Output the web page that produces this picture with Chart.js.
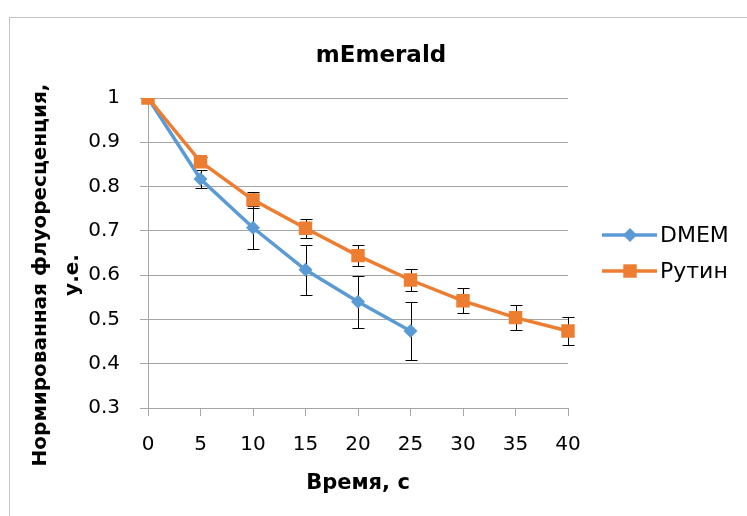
<!DOCTYPE html>
<html>
<head>
<meta charset="utf-8">
<script src="https://cdn.jsdelivr.net/npm/chart.js@4.4.1/dist/chart.umd.min.js"></script>
<style>
  html, body { margin: 0; padding: 0; background: #fff; }
</style>
</head>
<body>
<canvas id="fluoChart" width="747" height="516"></canvas>
<script>
// time points, s
const times = [0, 5, 10, 15, 20, 25, 30, 35, 40];
// normalised fluorescence and error bars
const dmem = [1.0, 0.817, 0.707, 0.612, 0.540, 0.474];
const dmemErr = [0, 0.020, 0.049, 0.056, 0.059, 0.065];
const rutin = [1.0, 0.856, 0.770, 0.706, 0.644, 0.589, 0.542, 0.504, 0.474];
const rutinErr = [0, 0.010, 0.018, 0.021, 0.023, 0.025, 0.028, 0.028, 0.031];
const seriesNames = ['DMEM', 'Рутин'];
const yTicks = [0.3, 0.4, 0.5, 0.6, 0.7, 0.8, 0.9, 1];

const chartTitle = 'mEmerald';
const yTitle = ['Нормированная флуоресценция,', 'у.е.'];
const xTitle = 'Время, с';

const gridColor = '#a6a6a6';
const textColor = '#000';

Chart.defaults.font.family = '"DejaVu Sans", sans-serif';
Chart.defaults.color = textColor;

function marker(ctx, style, r, x, y) {
    ctx.beginPath();
    if (style === 'rectRot') {
        ctx.moveTo(x - r, y);
        ctx.lineTo(x, y - r);
        ctx.lineTo(x + r, y);
        ctx.lineTo(x, y + r);
    } else {
        const s = r * Math.SQRT1_2;
        ctx.rect(x - s, y - s, 2 * s, 2 * s);
    }
    ctx.closePath();
    ctx.fill();
}

// frame, error bars, titles and legend
const extras = {
    id: 'extras',
    beforeDraw(chart) {
        const ctx = chart.ctx;
        ctx.save();
        ctx.strokeStyle = '#c4c4c4';
        ctx.lineWidth = 1;
        ctx.strokeRect(9.5, 17.5, chart.width + 20, chart.height + 20);
        ctx.restore();
    },
    beforeDatasetsDraw(chart) {
        const ctx = chart.ctx;
        const yScale = chart.scales.y;
        ctx.save();
        ctx.strokeStyle = '#000';
        ctx.lineWidth = 1;
        chart.data.datasets.forEach((ds, i) => {
            const meta = chart.getDatasetMeta(i);
            ds.data.forEach((v, j) => {
                const e = ds.errors[j];
                if (v == null || !e) return;
                const x = Math.round(meta.data[j].x) + 0.5;
                const top = Math.round(yScale.getPixelForValue(v + e)) + 0.5;
                const bot = Math.round(yScale.getPixelForValue(v - e)) + 0.5;
                ctx.beginPath();
                ctx.moveTo(x, top); ctx.lineTo(x, bot);
                ctx.moveTo(x - 6, top); ctx.lineTo(x + 6, top);
                ctx.moveTo(x - 6, bot); ctx.lineTo(x + 6, bot);
                ctx.stroke();
            });
        });
        ctx.restore();
    },
    afterDraw(chart) {
        const ctx = chart.ctx;
        ctx.save();
        ctx.fillStyle = textColor;

        ctx.font = 'bold 23px "DejaVu Sans"';
        ctx.textAlign = 'center';
        ctx.textBaseline = 'middle';
        ctx.fillText(chartTitle, 381, 56);

        ctx.font = 'bold 20px "DejaVu Sans"';
        ctx.textBaseline = 'alphabetic';
        [46, 78].forEach((x, k) => {
            ctx.save();
            ctx.translate(x, 275);
            ctx.rotate(-Math.PI / 2);
            ctx.fillText(yTitle[k], 0, 0);
            ctx.restore();
        });

        const rows = [235, 271];
        ctx.font = '22px "DejaVu Sans"';
        ctx.textAlign = 'left';
        ctx.textBaseline = 'middle';
        chart.data.datasets.forEach((ds, i) => {
            const y = rows[i];
            ctx.strokeStyle = ds.borderColor;
            ctx.lineWidth = ds.borderWidth;
            ctx.beginPath();
            ctx.moveTo(602, y);
            ctx.lineTo(657, y);
            ctx.stroke();
            ctx.fillStyle = ds.backgroundColor;
            marker(ctx, ds.pointStyle, ds.pointRadius, 630, y);
            ctx.fillStyle = textColor;
            ctx.fillText(ds.label, 660, y + 1);
        });
        ctx.restore();
    }
};

new Chart(document.getElementById('fluoChart'), {
    type: 'line',
    data: {
        labels: times,
        datasets: [{
            label: seriesNames[0],
            data: dmem,
            errors: dmemErr,
            borderColor: '#5B9BD5',
            backgroundColor: '#5B9BD5',
            borderWidth: 3.5,
            pointStyle: 'rectRot',
            pointRadius: 7,
            pointBorderWidth: 0,
            tension: 0,
            order: 1
        }, {
            label: seriesNames[1],
            data: rutin,
            errors: rutinErr,
            borderColor: '#ED7D31',
            backgroundColor: '#ED7D31',
            borderWidth: 3.5,
            pointStyle: 'rect',
            pointRadius: 9.5,
            pointBorderWidth: 0,
            tension: 0,
            order: 0
        }]
    },
    options: {
        responsive: false,
        animation: false,
        layout: { padding: { top: 98, right: 179, bottom: 0, left: 0 } },
        scales: {
            x: {
                type: 'category',
                offset: false,
                grid: { drawOnChartArea: false, tickLength: 8, color: gridColor },
                border: { color: gridColor },
                ticks: { font: { size: 20 }, padding: 17, maxRotation: 0, autoSkip: false },
                title: {
                    display: true,
                    text: xTitle,
                    font: { size: 21, weight: 'bold' },
                    padding: { top: 4, bottom: 20 }
                },
                afterFit(scale) { scale.height = 108; }
            },
            y: {
                min: 0.3,
                max: 1,
                afterBuildTicks(scale) { scale.ticks = yTicks.map(v => ({ value: v })); },
                grid: { tickLength: 8, color: gridColor },
                border: { color: gridColor },
                ticks: {
                    font: { size: 20 },
                    padding: 20,
                    callback: v => String(Math.round(v * 10) / 10)
                },
                afterFit(scale) { scale.width = 148; }
            }
        },
        plugins: {
            legend: { display: false },
            tooltip: { enabled: false }
        }
    },
    plugins: [extras]
});
</script>
</body>
</html>
